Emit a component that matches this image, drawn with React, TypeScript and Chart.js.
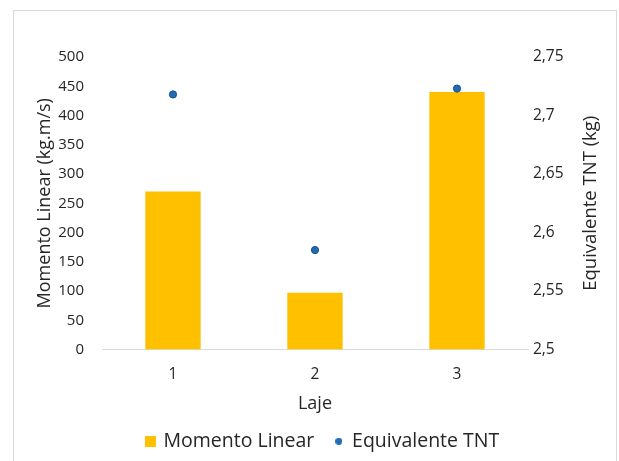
import React, { useEffect, useRef } from "react";
import { Chart, registerables } from "chart.js";

Chart.register(...registerables);

// Data
const lajes = ["1", "2", "3"];
const momentoLinear = [270, 97, 440];
const equivalenteTNT = [2.718, 2.585, 2.723];
const leftTicks = [0, 50, 100, 150, 200, 250, 300, 350, 400, 450, 500];
const rightTickLabels = ["2,5", "2,55", "2,6", "2,65", "2,7", "2,75"];

const FONT = "'Open Sans', 'Noto Sans', sans-serif";
const TEXT = "#262626";
const BAR_COLOR = "#FFC000";
const DOT_COLOR = "#1F6BB5";
const DOT_BORDER = "#18508C";
const RIGHT_TITLE = "Equivalente TNT (kg)";

function makeSquare(size: number, color: string) {
  const c = document.createElement("canvas");
  c.width = size;
  c.height = size;
  const ctx = c.getContext("2d")!;
  ctx.fillStyle = color;
  ctx.fillRect(0, 0, size, size);
  return c;
}

function makeDot(size: number, color: string) {
  const c = document.createElement("canvas");
  c.width = size;
  c.height = size;
  const ctx = c.getContext("2d")!;
  ctx.fillStyle = color;
  ctx.beginPath();
  ctx.arc(size / 2, size / 2, size / 2, 0, Math.PI * 2);
  ctx.fill();
  return c;
}

// White background plus the thin outer frame
const framePlugin = {
  id: "frame",
  beforeDraw(chart: any) {
    const { ctx, width, height } = chart;
    ctx.save();
    ctx.fillStyle = "#ffffff";
    ctx.fillRect(0, 0, width, height);
    ctx.strokeStyle = "#d9d9d9";
    ctx.lineWidth = 1;
    ctx.strokeRect(13.5, 10.5, 603, height + 20);
    ctx.restore();
  },
};

// Centre the legend row a little right of the plot centre
const legendNudgePlugin = {
  id: "legendNudge",
  afterLayout(chart: any) {
    const lg = chart.legend;
    if (lg) {
      lg.left += 8;
      lg.right += 8;
    }
  },
};

// Right axis title, written bottom-to-top like the left one
const rightTitlePlugin = {
  id: "rightTitle",
  afterDraw(chart: any) {
    const s = chart.scales.y1;
    const { ctx, chartArea } = chart;
    ctx.save();
    ctx.translate(s.right - 28, (chartArea.top + chartArea.bottom) / 2);
    ctx.rotate(-Math.PI / 2);
    ctx.fillStyle = TEXT;
    ctx.font = `18.5px ${FONT}`;
    ctx.textAlign = "center";
    ctx.textBaseline = "middle";
    ctx.fillText(RIGHT_TITLE, 0, 0);
    ctx.restore();
  },
};

export default function App() {
  const ref = useRef<HTMLCanvasElement | null>(null);

  useEffect(() => {
    if (!ref.current) return;
    const icons = [makeSquare(11, BAR_COLOR), makeDot(7, DOT_COLOR)];

    const chart = new Chart(ref.current, {
      type: "bar",
      data: {
        labels: lajes,
        datasets: [
          {
            type: "bar",
            label: "Momento Linear",
            data: momentoLinear,
            backgroundColor: BAR_COLOR,
            yAxisID: "y",
            categoryPercentage: 1,
            barPercentage: 0.39,
            order: 2,
          },
          {
            type: "line",
            label: "Equivalente TNT",
            data: equivalenteTNT,
            showLine: false,
            pointRadius: 3.6,
            pointBackgroundColor: DOT_COLOR,
            pointBorderColor: DOT_BORDER,
            pointBorderWidth: 1,
            backgroundColor: DOT_COLOR,
            borderColor: DOT_BORDER,
            yAxisID: "y1",
            order: 1,
          } as any,
        ],
      },
      options: {
        animation: false,
        responsive: false,
        layout: { padding: { top: 57, left: 0, right: 0, bottom: 0 } },
        plugins: {
          tooltip: { enabled: false },
          legend: {
            position: "bottom",
            fullSize: false,
            labels: {
              usePointStyle: true,
              pointStyleWidth: 7,
              padding: 21,
              color: TEXT,
              font: { family: FONT, size: 19.5 },
              generateLabels: (c: any) => {
                const items = Chart.defaults.plugins.legend.labels.generateLabels(c);
                items.forEach((it: any) => {
                  it.pointStyle = icons[it.datasetIndex];
                });
                return items;
              },
              sort: (a: any, b: any) => a.datasetIndex - b.datasetIndex,
            },
          },
        },
        scales: {
          x: {
            grid: { display: false, drawTicks: false },
            border: { display: true, color: "#d9d9d9", width: 1 },
            ticks: { color: TEXT, font: { family: FONT, size: 15.5 }, padding: 16 },
            title: {
              display: true,
              text: "Laje",
              color: TEXT,
              font: { family: FONT, size: 18 },
              padding: { top: 0, bottom: -4 },
            },
            afterFit: (s: any) => {
              s.height = 61;
            },
          },
          y: {
            position: "left",
            min: 0,
            max: 500,
            afterBuildTicks: (s: any) => {
              s.ticks = leftTicks.map((v) => ({ value: v }));
            },
            grid: { display: false, drawTicks: false },
            border: { display: false },
            ticks: { color: TEXT, font: { family: FONT, size: 15 }, padding: 18 },
            title: {
              display: true,
              text: "Momento Linear (kg.m/s)",
              color: TEXT,
              font: { family: FONT, size: 18 },
              padding: { top: 34, bottom: 0 },
            },
            afterFit: (s: any) => {
              s.width = 102;
            },
          },
          y1: {
            position: "right",
            min: 2.5,
            max: 2.75,
            afterBuildTicks: (s: any) => {
              s.ticks = rightTickLabels.map((t) => ({ value: parseFloat(t.replace(",", ".")) }));
            },
            grid: { display: false, drawTicks: false },
            border: { display: false },
            ticks: {
              color: TEXT,
              font: { family: FONT, size: 15.5 },
              padding: 5,
              callback: (_v: any, i: number) => rightTickLabels[i],
            },
            afterFit: (s: any) => {
              s.width = 91;
            },
          },
        },
      },
      plugins: [framePlugin, legendNudgePlugin, rightTitlePlugin],
    });

    return () => chart.destroy();
  }, []);

  return (
    <div style={{ position: "fixed", left: 0, top: 0, width: 619, height: 461, background: "#fff" }}>
      <canvas ref={ref} width={619} height={461} style={{ display: "block" }} />
    </div>
  );
}
